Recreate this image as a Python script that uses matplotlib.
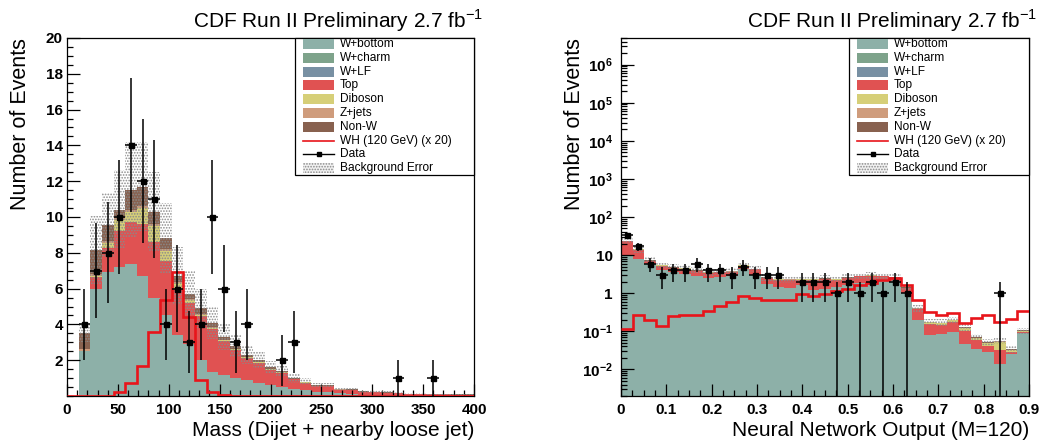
import numpy as np
import matplotlib
matplotlib.use('Agg')
import matplotlib.pyplot as plt
from matplotlib.patches import Rectangle
from matplotlib.lines import Line2D
from matplotlib.ticker import MultipleLocator, FixedLocator, FixedFormatter, LogLocator, NullFormatter

plt.rcParams['font.family'] = ['Liberation Sans', 'DejaVu Sans']
plt.rcParams['mathtext.fontset'] = 'custom'
plt.rcParams['mathtext.rm'] = 'Liberation Sans'
plt.rcParams['mathtext.bf'] = 'Liberation Sans:bold'
plt.rcParams['hatch.linewidth'] = 0.8

# ---------------- data: left panel (dijet + loose jet mass, 35 bins 0-400) ----------------
mass_range = (0, 400)
n_bins = 35
mass_wbottom = [0, 2.5, 6.0, 6.9, 7.2, 7.4, 6.7, 5.5, 4.5, 3.4, 2.9, 2.0, 1.36, 1.17, 0.98, 0.89,
                0.71, 0.6, 0.52, 0.4, 0.35, 0.25, 0.2, 0.15, 0.12, 0.08, 0.06, 0.05, 0.04, 0.03,
                0.03, 0.02, 0.02, 0.015, 0.015]
mass_top = [0, 0.03, 0.63, 1.38, 2.0, 2.33, 2.9, 3.1, 3.02, 2.59, 2.3, 2.45, 2.37, 1.89, 1.59, 1.25,
            1.14, 0.87, 0.78, 0.53, 0.39, 0.3, 0.35, 0.2, 0.21, 0.15, 0.16, 0.13, 0.1, 0.08,
            0.08, 0.07, 0.07, 0.06, 0.06]
mass_diboson = [0, 0, 0.05, 0.25, 0.65, 0.55, 0.9, 0.9, 0.6, 0.3, 0.15, 0.1, 0.08, 0.06, 0.05, 0.04,
                0.03, 0.03, 0.02, 0.02, 0.02, 0.01, 0.01, 0.01, 0.01, 0.01, 0.01, 0.01, 0.01, 0.005,
                0.005, 0.005, 0.005, 0.003, 0.003]
mass_zjets = [0, 0.12, 0.12, 0.12, 0.1, 0.12, 0.1, 0.1, 0.08, 0.06, 0.05, 0.05, 0.04, 0.03, 0.03, 0.02,
              0.02, 0.02, 0.02, 0.01, 0.01, 0.01, 0.01, 0.005, 0.005, 0.005, 0.005, 0.005, 0.005, 0.003,
              0.003, 0.003, 0.003, 0.002, 0.002]
mass_nonw = [0, 0.85, 1.35, 0.9, 0.45, 1.1, 1.1, 0.7, 0.6, 0.35, 0.3, 0.3, 0.25, 0.15, 0.15, 0.1,
             0.1, 0.08, 0.06, 0.04, 0.03, 0.03, 0.03, 0.02, 0.02, 0.01, 0.01, 0.01, 0.01, 0.005,
             0.005, 0.005, 0.005, 0.005, 0.005]
mass_bkg_err = [0, 0.5, 1.9, 1.8, 2.2, 2.7, 2.5, 2.2, 2.0, 1.6, 1.3, 1.1, 0.9, 0.75, 0.6, 0.5,
                0.45, 0.35, 0.3, 0.25, 0.2, 0.15, 0.15, 0.1, 0.1, 0.07, 0.07, 0.05, 0.04, 0.03,
                0.03, 0.03, 0.03, 0.03, 0.03]
mass_wh = [0, 0, 0, 0, 0.2, 0.7, 1.68, 3.6, 5.36, 6.9, 4.43, 0.9, 0.24, 0.05, 0, 0,
           0, 0, 0, 0, 0, 0, 0, 0, 0, 0, 0, 0, 0, 0, 0, 0, 0, 0, 0]
mass_data = [0, 4, 7, 8, 10, 14, 12, 11, 4, 6, 3, 4, 10, 6, 3, 4,
             0, 0, 2, 3, 0, 0, 0, 0, 0, 0, 0, 0, 1, 0, 0, 1, 0, 0, 0]

# ---------------- data: right panel (neural network output, 35 bins 0-0.9) ----------------
nn_range = (0, 0.9)
nn_wbottom = [9.3, 8.0, 5.8, 4.0, 3.6, 3.1, 2.9, 2.55, 2.7, 2.8, 4.2, 3.0, 1.75, 1.45, 1.4, 1.6,
              1.2, 1.3, 1.45, 1.65, 1.85, 2.0, 2.3, 2.15, 1.0, 0.2, 0.08, 0.085, 0.095, 0.047,
              0.034, 0.028, 0.014, 0.025, 0.09]
nn_top = [13.6, 5.8, 1.15, 1.23, 0.96, 1.26, 0.91, 0.87, 0.82, 0.82, 1.06, 1.19, 0.72, 0.83, 0.83, 0.68,
          1.08, 1.03, 0.83, 0.83, 0.92, 0.87, 0.48, 0.34, 0.34, 0.175, 0.077, 0.062, 0.077, 0.054,
          0.024, 0.014, 0.019, 0.003, 0.007]
nn_diboson = [0.4, 0.3, 0.15, 0.12, 0.1, 0.1, 0.08, 0.08, 0.08, 0.08, 0.1, 0.1, 0.06, 0.05, 0.05, 0.05,
              0.05, 0.05, 0.05, 0.05, 0.06, 0.06, 0.05, 0.05, 0.04, 0.02, 0.015, 0.015, 0.02, 0.02,
              0.008, 0.006, 0.02, 0.004, 0.005]
nn_zjets = [0.2, 0.1, 0.05, 0.05, 0.04, 0.04, 0.03, 0.03, 0.03, 0.03, 0.04, 0.03, 0.02, 0.02, 0.02, 0.02,
            0.02, 0.02, 0.02, 0.02, 0.02, 0.02, 0.02, 0.02, 0.01, 0.005, 0.003, 0.003, 0.003, 0.003,
            0.002, 0.001, 0.002, 0.001, 0.001]
nn_nonw = [0.5, 0.3, 0.15, 0.1, 0.1, 0.1, 0.08, 0.07, 0.07, 0.07, 0.1, 0.08, 0.05, 0.05, 0.05, 0.05,
           0.05, 0.05, 0.05, 0.05, 0.05, 0.05, 0.05, 0.04, 0.03, 0.01, 0.005, 0.005, 0.005, 0.004,
           0.002, 0.002, 0.002, 0.001, 0.002]
nn_bkg_err = [5, 3, 1.5, 1.1, 1.0, 0.9, 0.8, 0.7, 0.7, 0.75, 1.1, 0.9, 0.5, 0.5, 0.45, 0.45,
              0.45, 0.5, 0.45, 0.5, 0.55, 0.6, 0.55, 0.5, 0.3, 0.08, 0.035, 0.035, 0.04, 0.025,
              0.014, 0.01, 0.011, 0.007, 0.02]
nn_wh = [0.115, 0.26, 0.2, 0.14, 0.25, 0.27, 0.27, 0.35, 0.46, 0.6, 0.85, 0.74, 0.67, 0.68, 0.66, 0.95,
         0.83, 0.96, 1.13, 1.3, 1.6, 1.88, 2.16, 2.45, 1.6, 0.68, 0.33, 0.27, 0.3, 0.165,
         0.23, 0.26, 0.18, 0.21, 0.35]
nn_data = [33, 17, 6, 3, 4, 4, 6, 4, 4, 3, 5, 3, 3, 3, 0, 2,
           2, 2, 1, 2, 1, 2, 1, 2, 1, 0, 0, 0, 0, 0, 0, 0, 1, 0, 0]

legend_labels = ['W+bottom', 'W+charm', 'W+LF', 'Top', 'Diboson', 'Z+jets', 'Non-W',
                 'WH (120 GeV) (x 20)', 'Data', 'Background Error']
legend_colors = ['#8db0a8', '#7ea38b', '#7890a3', '#e05252', '#d6cf78', '#cf9c7c', '#88614f']
title_text = 'CDF Run II Preliminary 2.7 fb$^{-1}$'

# ---------------- figure ----------------
W, H = 1041, 443
fig = plt.figure(figsize=(W / 100, H / 100), dpi=100)


def fx(x):
    return x / W


def fy(y):
    return 1 - y / H


def draw_panel(ax, edges, comps, err, wh, data, logy=False):
    base_val = 1e-4 if logy else 0.0
    base = np.zeros(len(edges) - 1)
    colors = [legend_colors[0], legend_colors[3], legend_colors[4], legend_colors[5], legend_colors[6]]
    for comp, col in zip(comps, colors):
        comp = np.asarray(comp, float)
        top = base + comp
        bl = np.where(base > 0, base, base_val)
        ax.stairs(top, edges, baseline=bl, fill=True, color=col, linewidth=0, zorder=1)
        base = top
    err = np.asarray(err, float)
    lo = np.maximum(base - err, base_val)
    ax.stairs(base + err, edges, baseline=lo, fill=True, facecolor='none',
              edgecolor='#8a8a8a', hatch='......', linewidth=0, zorder=2)
    ax.stairs(np.asarray(wh, float), edges, baseline=None, color='#e8141a', linewidth=1.9, zorder=3)
    centers = 0.5 * (edges[1:] + edges[:-1])
    hw = 0.5 * (edges[1] - edges[0])
    d = np.asarray(data, float)
    m = d > 0
    e = np.sqrt(d[m])
    lower = np.minimum(e, d[m] - (1e-6 if logy else 0))
    ax.errorbar(centers[m], d[m], yerr=[lower, e], xerr=hw, fmt='s', color='black',
                ms=3.6, lw=1.1, capsize=0, zorder=4)


ax1 = fig.add_axes([fx(67), fy(396), fx(474) - fx(67), fy(38) - fy(396)])
ax2 = fig.add_axes([fx(621), fy(396), fx(1029) - fx(621), fy(38) - fy(396)])

edges1 = np.linspace(mass_range[0], mass_range[1], n_bins + 1)
edges2 = np.linspace(nn_range[0], nn_range[1], n_bins + 1)

draw_panel(ax1, edges1, [mass_wbottom, mass_top, mass_diboson, mass_zjets, mass_nonw],
           mass_bkg_err, mass_wh, mass_data)
draw_panel(ax2, edges2, [nn_wbottom, nn_top, nn_diboson, nn_zjets, nn_nonw],
           nn_bkg_err, nn_wh, nn_data, logy=True)

# axes styling
ax1.set_xlim(*mass_range)
ax1.set_ylim(0, 20)
ax1.xaxis.set_major_locator(MultipleLocator(50))
ax1.xaxis.set_minor_locator(MultipleLocator(10))
ax1.yaxis.set_major_locator(FixedLocator([2, 4, 6, 8, 10, 12, 14, 16, 18, 20]))
ax1.yaxis.set_minor_locator(MultipleLocator(0.5))

ax2.set_yscale('log')
ax2.set_xlim(*nn_range)
ax2.set_ylim(2e-3, 5e6)
ax2.xaxis.set_major_locator(MultipleLocator(0.1))
ax2.xaxis.set_minor_locator(MultipleLocator(0.025))
ylog = [1e-2, 1e-1, 1, 10, 1e2, 1e3, 1e4, 1e5, 1e6]
ylab = [r'$\mathbf{10^{-2}}$', r'$\mathbf{10^{-1}}$', '1', '10', r'$\mathbf{10^{2}}$',
        r'$\mathbf{10^{3}}$', r'$\mathbf{10^{4}}$', r'$\mathbf{10^{5}}$', r'$\mathbf{10^{6}}$']
ax2.yaxis.set_major_locator(FixedLocator(ylog))
ax2.yaxis.set_major_formatter(FixedFormatter(ylab))
ax2.yaxis.set_minor_locator(LogLocator(base=10, subs=np.arange(2, 10), numticks=20))
ax2.yaxis.set_minor_formatter(NullFormatter())
ax2.set_xticks([0, 0.1, 0.2, 0.3, 0.4, 0.5, 0.6, 0.7, 0.8, 0.9])
ax2.set_xticklabels(['0', '0.1', '0.2', '0.3', '0.4', '0.5', '0.6', '0.7', '0.8', '0.9'])

for ax in (ax1, ax2):
    ax.tick_params(which='both', direction='in', top=False, right=False, width=0.9, color='black')
    ax.tick_params(which='major', length=9, labelsize=11)
    ax.tick_params(which='minor', length=4.5)
    ax.tick_params(axis='x', pad=5)
    for lab in ax.get_xticklabels() + ax.get_yticklabels():
        lab.set_fontweight('bold')
    for sp in ax.spines.values():
        sp.set_linewidth(0.9)
ax1.tick_params(axis='y', pad=3)
ax2.tick_params(axis='y', pad=6)

# titles and axis labels
fig.text(fx(483), fy(28), title_text, ha='right', va='baseline', fontsize=15)
fig.text(fx(1037), fy(28), title_text, ha='right', va='baseline', fontsize=15)
fig.text(fx(21), fy(38), 'Number of Events', rotation=90, ha='center', va='top', fontsize=15.5)
fig.text(fx(574), fy(38), 'Number of Events', rotation=90, ha='center', va='top', fontsize=15.5)
fig.text(fx(474), fy(431), 'Mass (Dijet + nearby loose jet)', ha='right', va='center', fontsize=15)
fig.text(fx(1029), fy(431), 'Neural Network Output (M=120)', ha='right', va='center', fontsize=15)


# legends drawn manually
def draw_legend(x0, x1, y0, y1):
    box = Rectangle((fx(x0), fy(y1)), fx(x1) - fx(x0), fy(y0) - fy(y1), transform=fig.transFigure,
                    facecolor='white', edgecolor='black', linewidth=0.9, zorder=10)
    fig.add_artist(box)
    step = 13.8
    for i, lab in enumerate(legend_labels):
        yc = 44 + step * i
        px0, px1 = x0 + 8, x0 + 39
        if i < 7:
            r = Rectangle((fx(px0), fy(yc + 5)), fx(px1) - fx(px0), fy(yc - 5) - fy(yc + 5),
                          transform=fig.transFigure, facecolor=legend_colors[i], linewidth=0, zorder=11)
            fig.add_artist(r)
        elif i == 7:
            fig.add_artist(Line2D([fx(px0), fx(px1)], [fy(yc), fy(yc)], transform=fig.transFigure,
                                  color='#e8141a', lw=1.2, zorder=11))
        elif i == 8:
            fig.add_artist(Line2D([fx(px0), fx(px1)], [fy(yc), fy(yc)], transform=fig.transFigure,
                                  color='black', lw=1.0, zorder=11))
            fig.add_artist(Line2D([fx((px0 + px1) / 2)], [fy(yc)], transform=fig.transFigure,
                                  color='black', marker='s', ms=3.5, lw=0, zorder=12))
        else:
            r = Rectangle((fx(px0), fy(yc + 5)), fx(px1) - fx(px0), fy(yc - 5) - fy(yc + 5),
                          transform=fig.transFigure, facecolor='#f2f2f2', edgecolor='#8a8a8a',
                          hatch='......', linewidth=0, zorder=11)
            fig.add_artist(r)
        fig.text(fx(x0 + 45), fy(yc), lab, ha='left', va='center', fontsize=8.6, zorder=12)


draw_legend(295, 474, 38, 175)
draw_legend(849, 1029, 38, 175)

fig.savefig('out.png', dpi=100)
